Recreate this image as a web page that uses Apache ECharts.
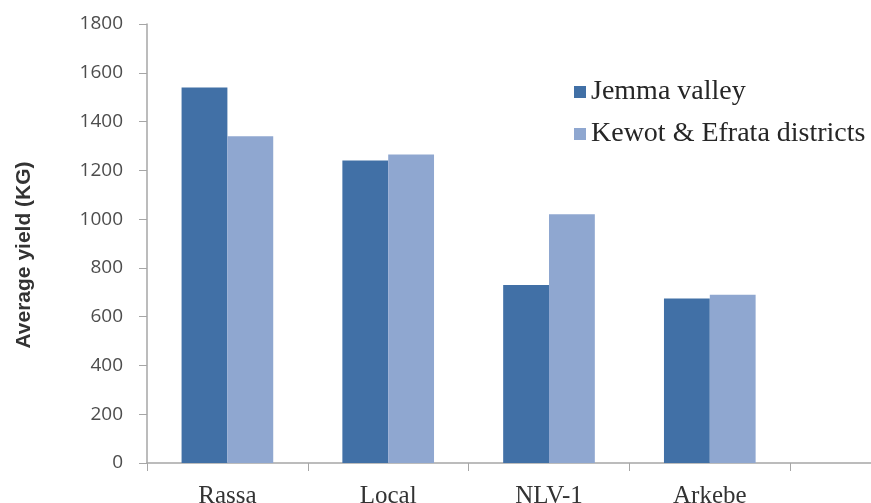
<!DOCTYPE html>
<html>
<head>
<meta charset="utf-8">
<title>Average yield by variety</title>
<script src="https://cdn.jsdelivr.net/npm/echarts@6/dist/echarts.min.js"></script>
<style>
  html, body { margin: 0; padding: 0; background: #ffffff; overflow: hidden; }
  /* the plot runs on past the right edge of the window */
  #chart { width: 951px; height: 503px; }
</style>
</head>
<body>
<div id="chart"></div>
<script>
// Varieties on the x axis (the last slot is left empty)
const varieties = ['Rassa', 'Local', 'NLV-1', 'Arkebe', ''];
// Average yield (KG) per area
const jemmaValley = [1540, 1240, 730, 675, null];
const kewotEfrata = [1340, 1265, 1020, 690, null];
const seriesNames = ['Jemma valley', 'Kewot & Efrata districts'];
// Value axis range
const yMin = 0;
const yMax = 1800;
const yStep = 200;

const chart = echarts.init(document.getElementById('chart'), null, { renderer: 'canvas' });

const axisGray = '#a6a6a6';

chart.setOption({
  animation: false,
  backgroundColor: '#ffffff',
  grid: {
    left: 147,
    top: 24,
    height: 439,
    right: 0,
    outerBoundsMode: 'none',
    containLabel: false
  },
  legend: {
    orient: 'vertical',
    left: 569,
    top: 73,
    itemWidth: 12,
    itemHeight: 12,
    itemGap: 14,
    icon: 'rect',
    textStyle: {
      fontFamily: '"Liberation Serif", "Times New Roman", serif',
      fontSize: 28,
      color: '#262626'
    },
    data: seriesNames
  },
  xAxis: {
    type: 'category',
    data: varieties,
    boundaryGap: true,
    axisLine: { show: true, lineStyle: { color: axisGray, width: 1.5 } },
    axisTick: { show: true, alignWithLabel: false, length: 8, lineStyle: { color: axisGray } },
    axisLabel: {
      margin: 21,
      fontFamily: '"Liberation Serif", "Times New Roman", serif',
      fontSize: 25,
      color: '#333333'
    },
    splitLine: { show: false }
  },
  yAxis: {
    type: 'value',
    min: yMin,
    max: yMax,
    interval: yStep,
    axisLine: { show: true, lineStyle: { color: axisGray, width: 1.5 } },
    axisTick: { show: true, length: 8, lineStyle: { color: axisGray } },
    axisLabel: {
      margin: 24,
      fontFamily: '"Open Sans", sans-serif',
      fontSize: 19,
      color: '#4d4d4d',
      formatter: (v) => String(v)
    },
    splitLine: { show: false }
  },
  graphic: [{
    type: 'text',
    x: 24,
    y: 255,
    rotation: Math.PI / 2,
    style: {
      text: 'Average yield (KG)',
      fontFamily: '"Liberation Sans", Arial, sans-serif',
      fontWeight: 'bold',
      fontSize: 21,
      fill: '#333333',
      align: 'center',
      verticalAlign: 'middle'
    }
  }],
  series: [
    {
      name: seriesNames[0],
      type: 'bar',
      data: jemmaValley,
      barGap: '0%',
      barCategoryGap: '43%',
      itemStyle: { color: '#4170a6' }
    },
    {
      name: seriesNames[1],
      type: 'bar',
      data: kewotEfrata,
      itemStyle: { color: '#8fa7d0' }
    }
  ]
});
</script>
</body>
</html>
